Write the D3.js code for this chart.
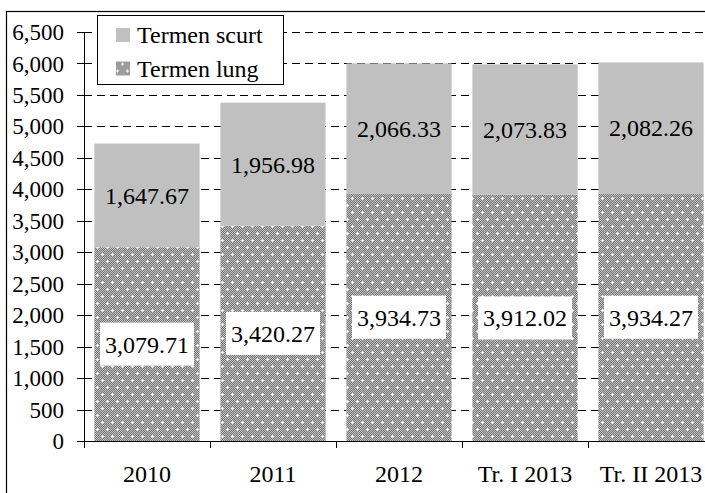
<!DOCTYPE html>
<html>
<head>
<meta charset="utf-8">
<script src="https://cdn.jsdelivr.net/npm/d3@7"></script>
<style>
  body { margin: 0; background: #fff; }
  text { font-family: "Liberation Serif", "Times New Roman", serif; fill: #000; }
</style>
</head>
<body>
<svg id="chart" width="705" height="493"></svg>
<script>
const categories = ["2010", "2011", "2012", "Tr. I 2013", "Tr. II 2013"];
const termenLung = [3079.71, 3420.27, 3934.73, 3912.02, 3934.27];
const termenScurt = [1647.67, 1956.98, 2066.33, 2073.83, 2082.26];
const yTicks = d3.range(0, 6501, 500);
const seriesNames = ["Termen scurt", "Termen lung"];

const svg = d3.select("#chart");
const fmt = d3.format(",.2f");

// outer frame (runs off the right and bottom edge)
svg.append("rect")
   .attr("x", 6.5).attr("y", 11.5)
   .attr("width", 720).attr("height", 500)
   .attr("fill", "none").attr("stroke", "#000").attr("stroke-width", 1.2);

// hatch pattern for "Termen lung"
let defs = svg.append("defs");
let pat = defs.append("pattern")
              .attr("id", "lung")
              .attr("patternUnits", "userSpaceOnUse")
              .attr("width", 10).attr("height", 14);
pat.append("rect").attr("width", 10).attr("height", 14).attr("fill", "#7a7a7a");
for (let i = 0; i < 10; i++) {
  for (let j = 0; j < 14; j++) {
    if ((i + j) % 2 === 0) {
      pat.append("rect").attr("x", i).attr("y", j).attr("width", 1).attr("height", 1).attr("fill", "#bdbdbd");
    }
  }
}
[[2, 2], [7, 9]].forEach(([cx, cy]) => {
  pat.append("rect").attr("x", cx - 1).attr("y", cy).attr("width", 3).attr("height", 1).attr("fill", "#e6e6e6");
  pat.append("rect").attr("x", cx).attr("y", cy - 1).attr("width", 1).attr("height", 3).attr("fill", "#e6e6e6");
  pat.append("rect").attr("x", cx).attr("y", cy).attr("width", 1).attr("height", 1).attr("fill", "#fff");
});

const x = d3.scaleBand().domain(categories).range([84, 714]).paddingInner(0).paddingOuter(0);
const y = d3.scaleLinear().domain([0, 6500]).range([441, 32]);
const barW = x.bandwidth() * 0.835;

// dashed gridlines
svg.append("g")
   .selectAll("line")
   .data(yTicks.filter(d => d > 0))
   .enter()
   .append("line")
   .attr("x1", 84).attr("x2", 705)
   .attr("y1", d => Math.round(y(d)) + 0.5).attr("y2", d => Math.round(y(d)) + 0.5)
   .attr("stroke", "#000").attr("stroke-width", 1)
   .attr("stroke-dasharray", "8,5");

// bars
let bars = svg.append("g")
              .selectAll(".bar")
              .data(categories)
              .enter()
              .append("g")
              .attr("class", "bar");

bars.append("rect")
    .attr("x", d => x(d) + (x.bandwidth() - barW) / 2)
    .attr("width", barW)
    .attr("y", (d, i) => y(termenLung[i]))
    .attr("height", (d, i) => y(0) - y(termenLung[i]))
    .attr("fill", "url(#lung)");

bars.append("rect")
    .attr("x", d => x(d) + (x.bandwidth() - barW) / 2)
    .attr("width", barW)
    .attr("y", (d, i) => y(termenLung[i] + termenScurt[i]))
    .attr("height", (d, i) => y(termenLung[i]) - y(termenLung[i] + termenScurt[i]))
    .attr("fill", "#c0c0c0");

// labels for short term
bars.append("text")
    .attr("x", d => x(d) + x.bandwidth() / 2)
    .attr("y", (d, i) => (y(termenLung[i]) + y(termenLung[i] + termenScurt[i])) / 2)
    .attr("dy", "0.35em")
    .attr("text-anchor", "middle")
    .style("font-size", "24px")
    .text((d, i) => fmt(termenScurt[i]));

// labels for long term, on white boxes
bars.each(function(d, i) {
  let g = d3.select(this);
  let cy = (y(0) + y(termenLung[i])) / 2;
  let t = g.append("text")
           .attr("x", x(d) + x.bandwidth() / 2)
           .attr("y", cy)
           .attr("dy", "0.35em")
           .attr("text-anchor", "middle")
           .style("font-size", "24px")
           .text(fmt(termenLung[i]));
  let bb = t.node().getBBox();
  g.insert("rect", "text:last-of-type")
   .attr("x", bb.x - 5).attr("y", cy - 21.5)
   .attr("width", bb.width + 10).attr("height", 43)
   .attr("fill", "#fff");
});

// y axis
let yAxis = svg.append("g");
yAxis.append("line")
     .attr("x1", 84.5).attr("x2", 84.5).attr("y1", 32).attr("y2", 441)
     .attr("stroke", "#000");
yAxis.selectAll(".ytick")
     .data(yTicks)
     .enter()
     .append("line")
     .attr("x1", 77).attr("x2", 92)
     .attr("y1", d => Math.round(y(d)) + 0.5).attr("y2", d => Math.round(y(d)) + 0.5)
     .attr("stroke", "#000");
yAxis.selectAll(".ylabel")
     .data(yTicks)
     .enter()
     .append("text")
     .attr("x", 64)
     .attr("y", d => y(d))
     .attr("dy", "0.35em")
     .attr("text-anchor", "end")
     .style("font-size", "23px")
     .text(d => d3.format(",")(d));

// x axis
let xAxis = svg.append("g");
xAxis.append("line")
     .attr("x1", 77).attr("x2", 705).attr("y1", 441.5).attr("y2", 441.5)
     .attr("stroke", "#000").attr("stroke-width", 1.2);
xAxis.selectAll(".xtick")
     .data(categories.slice(1).concat([null]))
     .enter()
     .append("line")
     .attr("x1", (d, i) => 84 + (i + 1) * x.step() + 0.5)
     .attr("x2", (d, i) => 84 + (i + 1) * x.step() + 0.5)
     .attr("y1", 441).attr("y2", 448)
     .attr("stroke", "#000");
xAxis.append("line")
     .attr("x1", 84.5).attr("x2", 84.5).attr("y1", 441).attr("y2", 448)
     .attr("stroke", "#000");
xAxis.selectAll(".xlabel")
     .data(categories)
     .enter()
     .append("text")
     .attr("x", d => x(d) + x.bandwidth() / 2)
     .attr("y", 482)
     .attr("text-anchor", "middle")
     .style("font-size", "24px")
     .text(d => d);

// legend
let legend = svg.append("g");
legend.append("rect")
      .attr("x", 97.5).attr("y", 15.5).attr("width", 186).attr("height", 69)
      .attr("fill", "#fff").attr("stroke", "#000");
let rows = legend.selectAll(".legend")
                 .data(seriesNames)
                 .enter()
                 .append("g")
                 .attr("class", "legend")
                 .attr("transform", (d, i) => `translate(0,${i * 33.5})`);
rows.append("rect")
    .attr("x", 116).attr("y", 28).attr("width", 14).attr("height", 14)
    .attr("fill", (d, i) => i === 0 ? "#c0c0c0" : "url(#lung)");
rows.append("text")
    .attr("x", 137).attr("y", 35)
    .attr("dy", "0.35em")
    .style("font-size", "24px")
    .text(d => d);
</script>
</body>
</html>
